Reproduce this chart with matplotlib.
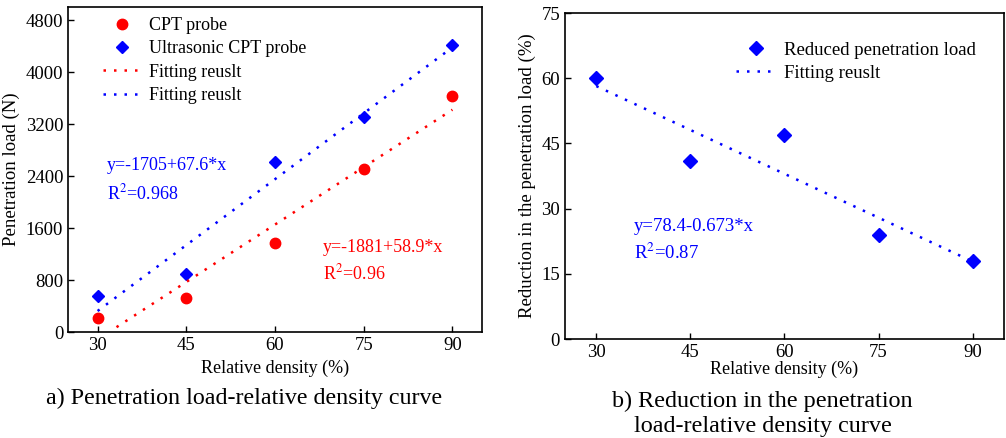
import matplotlib
matplotlib.use("Agg")
import matplotlib.pyplot as plt
import numpy as np

plt.rcParams['font.family'] = ['Liberation Serif', 'DejaVu Serif']
plt.rcParams['mathtext.fontset'] = 'stix'

# data
density = [30, 45, 60, 75, 90]
cpt_load = [220, 528, 1375, 2510, 3634]
ucpt_load = [554, 888, 2613, 3306, 4409]
reduction = [60.0, 41.0, 47.0, 24.0, 18.0]

# fitted lines (from the equations on the chart)
red_fit_x = [33.2, 90]
blue_fit_x = [30, 90]
red_fit = lambda x: -1881 + 58.9 * np.asarray(x)
blue_fit = lambda x: -1705 + 67.6 * np.asarray(x)
red_b_fit = lambda x: 78.4 - 0.673 * np.asarray(x)

xticks = [30, 45, 60, 75, 90]
yticks_a = [0, 800, 1600, 2400, 3200, 4000, 4800]
yticks_b = [0, 15, 30, 45, 60, 75]

fig = plt.figure(figsize=(10.06, 4.38), dpi=100)
dots = (0, (1, 3.2))

# ---- a) penetration load
ax1 = fig.add_axes([0.0676, 0.242, 0.4115, 0.742])
ax1.plot(density, cpt_load, 'o', color='red', ms=7.5, label='CPT probe')
ax1.plot(density, ucpt_load, 'D', color='blue', ms=6.5, label='Ultrasonic CPT probe')
xs = np.linspace(red_fit_x[0], red_fit_x[1], 50)
ax1.plot(xs, red_fit(xs), color='red', ls=dots, lw=1.8, label='Fitting reuslt')
xs = np.linspace(blue_fit_x[0], blue_fit_x[1], 50)
ax1.plot(xs, blue_fit(xs), color='blue', ls=dots, lw=1.8, label='Fitting reuslt')
ax1.set_xlim(25, 95)
ax1.set_ylim(0, 5000)
ax1.set_xticks(xticks)
ax1.set_yticks(yticks_a)
ax1.set_xlabel('Relative density (%)', fontsize=13, labelpad=4)
ax1.set_ylabel('Penetration load (N)', fontsize=13.5, labelpad=4)
ax1.text(31.6, 2556, 'y=-1705+67.6*x', color='blue', fontsize=13, va='center')
ax1.text(31.6, 2140, 'R$^2$=0.968', color='blue', fontsize=13, va='center')
ax1.text(68.1, 1293, 'y=-1881+58.9*x', color='red', fontsize=13, va='center')
ax1.text(68.1, 908, 'R$^2$=0.96', color='red', fontsize=13, va='center')
ax1.legend(loc='upper left', frameon=False, fontsize=13, handlelength=2.1,
           handletextpad=0.45, labelspacing=0.35, borderpad=0.2,
           bbox_to_anchor=(0.055, 1.008))
fig.text(0.2425, 0.091, 'a) Penetration load-relative density curve',
         ha='center', va='center', fontsize=17.3)

# ---- b) reduction
ax2 = fig.add_axes([0.5616, 0.226, 0.4364, 0.744])
ax2.plot(density, reduction, 'D', color='blue', ms=7, label='Reduced penetration load')
xs = np.linspace(30, 90, 50)
ax2.plot(xs, red_b_fit(xs), color='blue', ls=dots, lw=1.8, label='Fitting reuslt')
ax2.set_xlim(25, 95)
ax2.set_ylim(0, 75)
ax2.set_xticks(xticks)
ax2.set_yticks(yticks_b)
ax2.set_xlabel('Relative density (%)', fontsize=13, labelpad=0)
ax2.set_ylabel('Reduction in the penetration load (%)', fontsize=13.6, labelpad=4)
ax2.text(36.0, 25.9, 'y=78.4-0.673*x', color='blue', fontsize=13.5, va='center')
ax2.text(36.0, 19.9, 'R$^2$=0.87', color='blue', fontsize=13.5, va='center')
ax2.legend(loc='upper left', frameon=False, fontsize=13.5, handlelength=2.2,
           handletextpad=0.37, labelspacing=0.3, borderpad=0.2,
           bbox_to_anchor=(0.359, 0.952))
fig.text(0.758, 0.056, 'b) Reduction in the penetration\nload-relative density curve',
         ha='center', va='center', fontsize=17.4, linespacing=1.25)

for ax in (ax1, ax2):
    ax.tick_params(direction='in', length=4, labelsize=13.5, width=1)
    for s in ax.spines.values():
        s.set_linewidth(1.2)

fig.savefig('out.png', dpi=100)
